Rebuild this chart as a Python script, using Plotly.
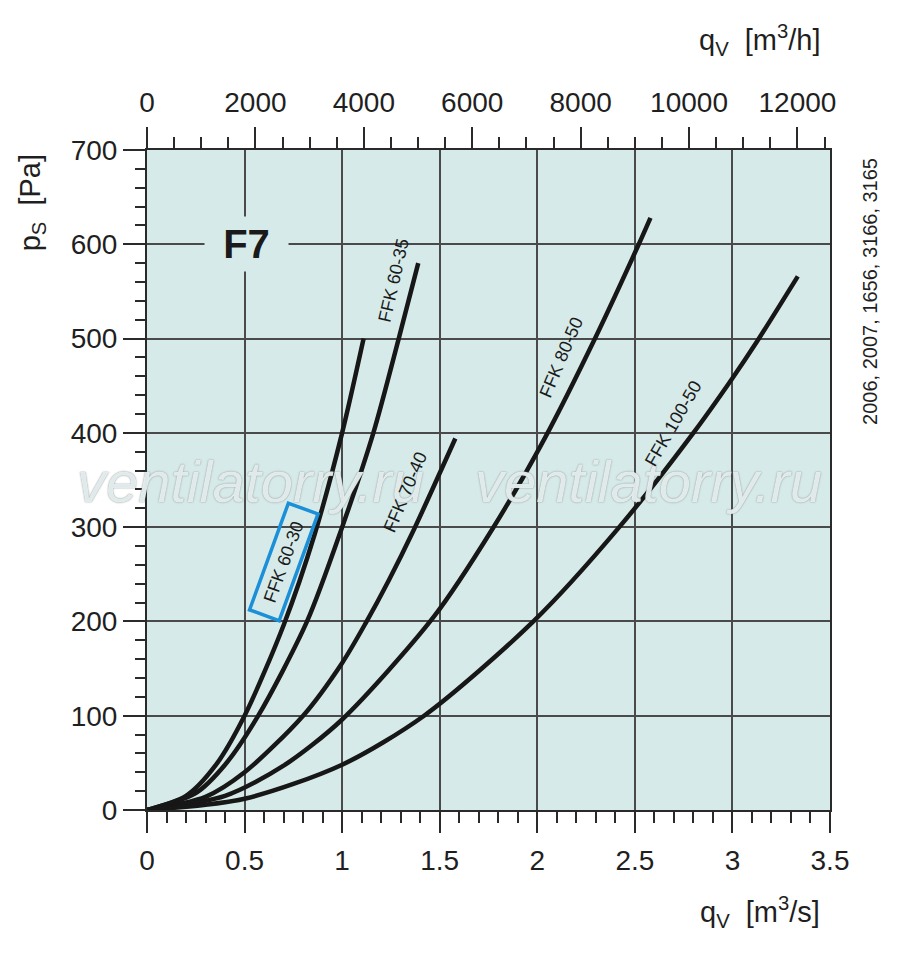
import plotly.graph_objects as go

# air flow q [m3/s] vs static pressure drop p [Pa]
q_6030 = [0, 0.2, 0.35, 0.5, 0.7, 0.86, 1.0, 1.11]
p_6030 = [0, 15, 47, 100, 196, 293, 400, 500]

q_6035 = [0, 0.25, 0.4, 0.57, 0.82, 1.0, 1.16, 1.29, 1.39]
p_6035 = [0, 18, 48, 100, 200, 300, 400, 500, 580]

q_7040 = [0, 0.3, 0.5, 0.8, 1.0, 1.12, 1.24, 1.36, 1.58]
p_7040 = [0, 14, 40, 100, 156, 198, 244, 294, 394]

q_8050 = [0, 0.4, 0.7, 1.0, 1.47, 1.77, 2.04, 2.3, 2.52, 2.58]
p_8050 = [0, 15, 47, 96, 205, 298, 395, 502, 600, 628]

q_10050 = [0, 0.5, 1.0, 1.42, 1.98, 2.42, 2.8, 3.0, 3.12, 3.335]
p_10050 = [0, 12, 48, 100, 200, 300, 400, 458, 495, 566]

names = ["FFK 60-30", "FFK 60-35", "FFK 70-40", "FFK 80-50", "FFK 100-50"]
curves = [(q_6030, p_6030), (q_6035, p_6035), (q_7040, p_7040),
          (q_8050, p_8050), (q_10050, p_10050)]

x_ticks = [0, 0.5, 1, 1.5, 2, 2.5, 3, 3.5]
x_ticklabels = ["0", "0.5", "1", "1.5", "2", "2.5", "3", "3.5"]
top_ticks = [0, 2000, 4000, 6000, 8000, 10000, 12000]
top_ticklabels = ["0", "2000", "4000", "6000", "8000", "10000", "12000"]
y_ticks = [0, 100, 200, 300, 400, 500, 600, 700]

BG = "#d6ebe9"
GRID = "#4a4a4a"
INK = "#1f1f1f"
FONT = "Liberation Sans, Arial, sans-serif"

fig = go.Figure()
for name, (qx, py) in zip(names, curves):
    fig.add_trace(go.Scatter(x=qx, y=py, mode="lines", name=name,
                             line=dict(color="#171717", width=4.5,
                                       shape="spline", smoothing=0.8),
                             hoverinfo="x+y+name"))

# invisible copy in m3/h so the top axis gets drawn
fig.add_trace(go.Scatter(x=[v * 3600 for v in q_10050], y=p_10050,
                         xaxis="x2", mode="lines", opacity=0,
                         showlegend=False, hoverinfo="skip"))

axis_font = dict(family=FONT, size=28, color=INK)
tick_style = dict(ticks="outside", tickwidth=1.5, tickcolor="#2a2a2a")

# the page body adds 8px, so the figure is 8px smaller and margins shifted
fig.update_layout(
    width=892, height=949,
    margin=dict(l=139, r=70, t=142, b=147),
    paper_bgcolor="white",
    plot_bgcolor=BG,
    showlegend=False,
    font=dict(family=FONT, color=INK),
    xaxis=dict(range=[0, 3.5], tickvals=x_ticks, ticktext=x_ticklabels,
               showgrid=True, gridcolor=GRID, gridwidth=1.5,
               zeroline=False, showline=True, linecolor="#2a2a2a", linewidth=2,
               ticklen=21, **tick_style,
               minor=dict(dtick=0.1, ticklen=11, showgrid=False, **tick_style),
               tickfont=axis_font, ticklabelstandoff=3),
    xaxis2=dict(range=[0, 12600], overlaying="x", side="top", anchor="y",
                tickvals=top_ticks, ticktext=top_ticklabels,
                showgrid=False, zeroline=False,
                showline=True, linecolor="#2a2a2a", linewidth=2,
                ticklen=21, **tick_style,
                minor=dict(dtick=500, ticklen=11, showgrid=False, **tick_style),
                tickfont=axis_font, ticklabelstandoff=4),
    yaxis=dict(range=[0, 700], tickvals=y_ticks,
               showgrid=True, gridcolor=GRID, gridwidth=1.5,
               zeroline=False, showline=True, mirror=True,
               linecolor="#2a2a2a", linewidth=2,
               ticklen=22, **tick_style,
               minor=dict(dtick=20, ticklen=10, showgrid=False, **tick_style),
               tickfont=axis_font, ticklabelstandoff=0),
)

title_font = dict(size=29, family=FONT, color=INK)
centered = dict(xref="paper", yref="paper", showarrow=False,
                xanchor="center", yanchor="middle")

# axis titles
fig.add_annotation(x=0.8975, y=1.167, text="q<sub>V</sub>  [m<sup>3</sup>/h]",
                   font=title_font, **centered)
fig.add_annotation(x=0.8975, y=-0.1545, text="q<sub>V</sub>  [m<sup>3</sup>/s]",
                   font=title_font, **centered)
fig.add_annotation(x=-0.169, y=0.92, text="p<sub>S</sub>  [Pa]", textangle=-90,
                   font=title_font, **centered)

# reference numbers on the right
fig.add_annotation(x=1.0586, y=0.785, text="2006, 2007, 1656, 3166, 3165",
                   textangle=-90, font=dict(size=20, family=FONT, color=INK),
                   **centered)

# filter class, box hides the grid behind it
fig.add_annotation(x=0.51, y=600, text="<b>F7</b>", showarrow=False,
                   width=81, height=52, bgcolor=BG,
                   font=dict(size=40, family=FONT, color="#1a1a1a"))

# watermark
for wx in [0.53, 2.57]:
    fig.add_annotation(x=wx, y=348, text="<i>ventilatorry.ru</i>",
                       showarrow=False,
                       font=dict(size=58, family=FONT,
                                 color="rgba(236,246,246,0.9)",
                                 shadow="0px 0px 1.5px rgba(100,100,100,0.95)"))

# curve labels
labels = [("FFK 60-30", 0.698, 263, -70),
          ("FFK 60-35", 1.265, 562, -77),
          ("FFK 70-40", 1.325, 337, -67),
          ("FFK 80-50", 2.125, 480, -67),
          ("FFK 100-50", 2.70, 410, -60)]
for text, lx, ly, ang in labels:
    extra = {}
    if text == "FFK 60-30":
        extra = dict(bordercolor="#1b8fd8", borderwidth=3.5, borderpad=2,
                     width=106, height=24)
    fig.add_annotation(x=lx, y=ly, text=text, textangle=ang, showarrow=False,
                       font=dict(size=18, family=FONT, color="#1a1a1a"),
                       **extra)

fig.write_html("out.html")
